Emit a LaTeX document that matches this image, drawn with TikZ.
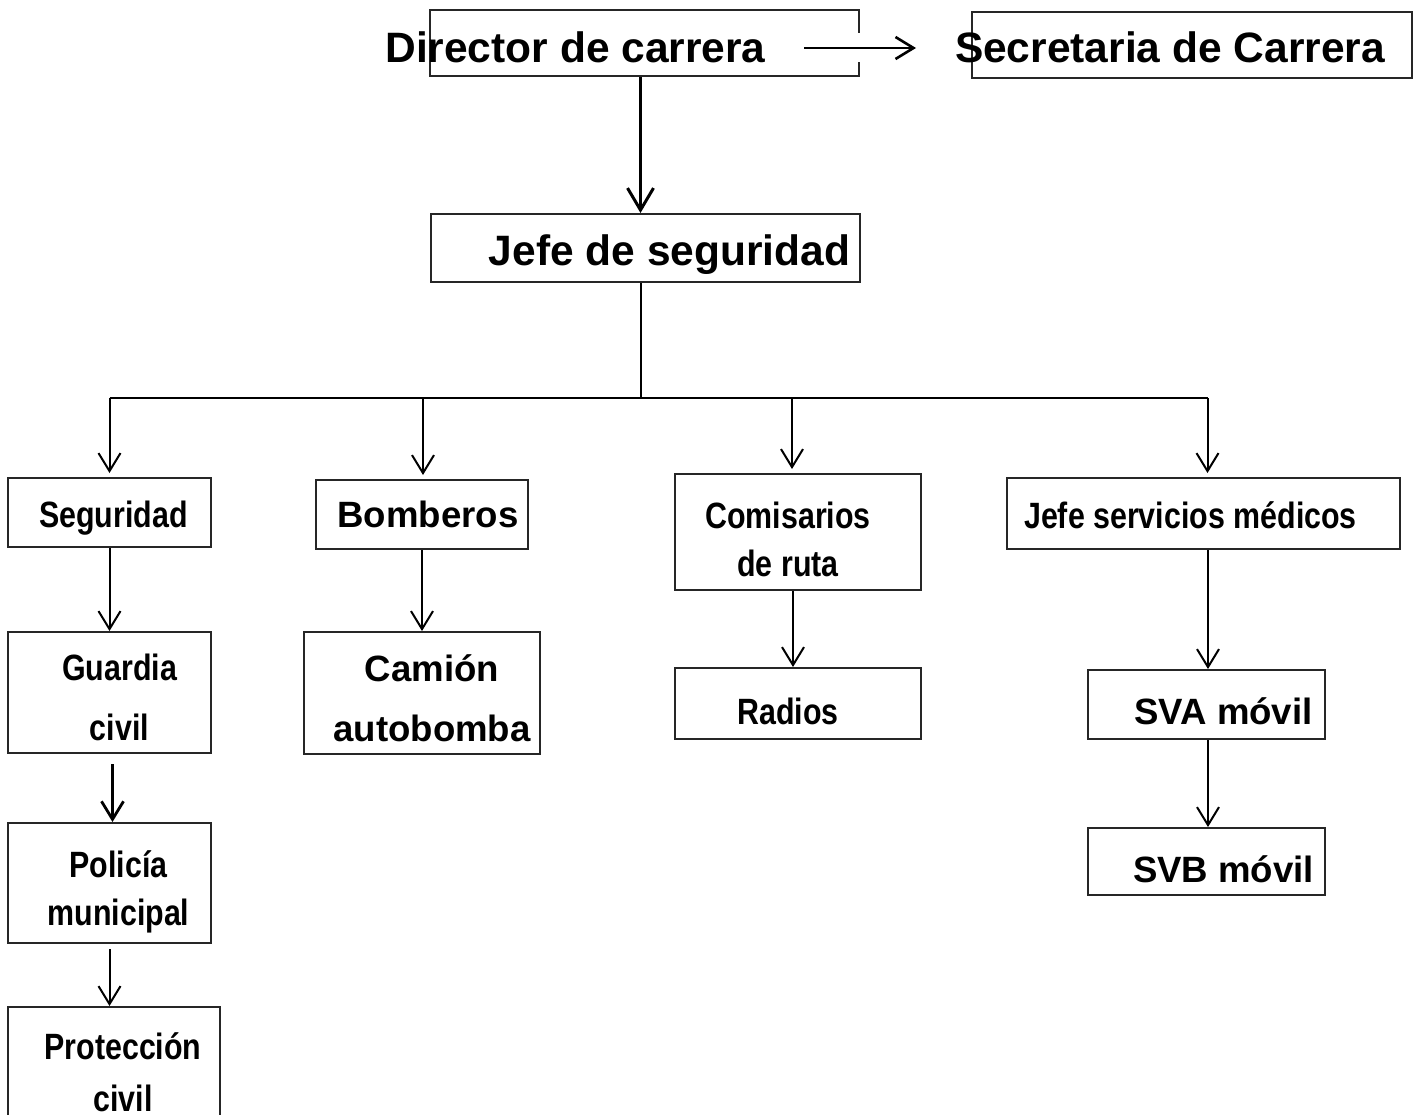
\documentclass[tikz,border=0pt]{standalone}
\usepackage{fontspec}
\setmainfont{Liberation Sans}
\newfontfamily\angosta[FakeStretch=0.83]{Liberation Sans}
\usepackage{tikz}
\usetikzlibrary{arrows.meta, calc}
\newcommand*{\cargo}[6][]{%
  \node [ cargo, minimum width = #4, minimum height = #5,
          label = {[rotulo, #1]center:#6} ] (#2) at (#3) {};
}

\begin{document}
\begin{tikzpicture}[x = 1pt, y = -1pt,
    cargo/.style  = {draw = black!85, line width = 2pt, inner sep = 0pt},
    rotulo/.style = {inner sep = 0pt, align = center,
      font = \angosta\fontsize{36.6}{48}\selectfont\bfseries},
    grande/.style = {font = \fontsize{42.5}{48}\selectfont\bfseries},
    media/.style  = {font = \fontsize{36.6}{60}\selectfont\bfseries},
    flecha/.style = {-{Straight Barb[length = 18pt, width = 22pt]},
      line width = 2pt},
  ]
  \useasboundingbox (0,0) rectangle (1424,1114);

  % mando
  \cargo[grande, xshift = -69, yshift = -4]{dir}{644.5,43}{429}{66}{Director de carrera}
  \cargo[grande, xshift = -22, yshift = -2]{sec}{1192,45}{440}{66}{Secretaria de Carrera}
  \cargo[grande, xshift = 24, yshift = -7]{jefe}{645.5,248}{429}{68}{Jefe de seguridad}

  % areas
  \cargo[xshift = 4, yshift = -6]{seg}{109.5,512.5}{203}{69}{Seguridad}
  \cargo[media, xshift = 6]{bom}{422,514.5}{212}{69}{Bomberos}
  \cargo[xshift = -10, yshift = -7]{com}{798,532}{246}{116}{Comisarios\\de ruta}
  \cargo[xshift = -13, yshift = -2]{jsm}{1203.5,513.5}{393}{71}{Jefe servicios médicos}

  % dependencias
  \cargo[xshift = 10, yshift = -5]{gc}{109.5,692.5}{203}{121}{Guardia\\[12pt]civil}
  \cargo[xshift = 9, yshift = -9]{pm}{109.5,883}{203}{120}{Policía\\municipal}
  \cargo[xshift = 9, yshift = -5]{pc}{114,1067.5}{212}{121}{Protección\\[4pt]civil}
  \cargo[media, xshift = 10, yshift = -5]{cam}{422,693}{236}{122}{Camión\\autobomba}
  \cargo[xshift = -10, yshift = -8]{rad}{798,703.5}{246}{71}{Radios}
  \cargo[media, xshift = 17, yshift = -7]{sva}{1206.5,704.5}{237}{69}{SVA móvil}
  \cargo[media, xshift = 17, yshift = -8]{svb}{1206.5,861.5}{237}{67}{SVB móvil}

  % director
  \draw[white, line width = 29pt]
    ([xshift = -40pt, yshift = -4.5pt]dir.east) -- ([xshift = 40pt, yshift = -4.5pt]dir.east);
  \draw[flecha, line width = 2.6pt]
    ([xshift = -56pt, yshift = -5pt]dir.east) -- ([xshift = -55pt, yshift = -3pt]sec.west);
  \draw[flecha, line width = 3pt,
        -{Straight Barb[length = 22pt, width = 26pt]}]
    ([xshift = -4pt]dir.south) -- ([xshift = -5pt]jefe.north);

  % reparto
  \coordinate (reparto) at ([xshift = -5pt, yshift = -115pt]jefe.south);
  \draw[line width = 2pt] ([xshift = -5pt]jefe.south) -- (reparto);
  \draw[line width = 2pt] (seg.north |- reparto) -- ([xshift = 4pt]jsm.north |- reparto);
  \foreach \n/\dx in {seg/0, bom/1, com/-6, jsm/4}
    \draw[flecha, shorten > = 4pt]
      ([xshift = \dx pt]\n.north |- reparto) -- ([xshift = \dx pt]\n.north);

  % cadenas
  \draw[flecha] (seg) -- (gc);
  \draw[flecha, line width = 2.8pt] ([xshift = 3pt, yshift = -10pt]gc.south) -- ([xshift = 3pt]pm.north);
  \draw[flecha] ([yshift = -5pt]pm.south) -- (pm.south |- pc.north);
  \draw[flecha] (bom) -- (cam);
  \draw[flecha] ([xshift = -5pt]com.south) -- ([xshift = -5pt]rad.north);
  \draw[flecha] ([xshift = 1.5pt]sva.north |- jsm.south) -- ([xshift = 1.5pt]sva.north);
  \draw[flecha] ([xshift = 1.5pt]sva.south) -- ([xshift = 1.5pt]svb.north);
\end{tikzpicture}
\end{document}
